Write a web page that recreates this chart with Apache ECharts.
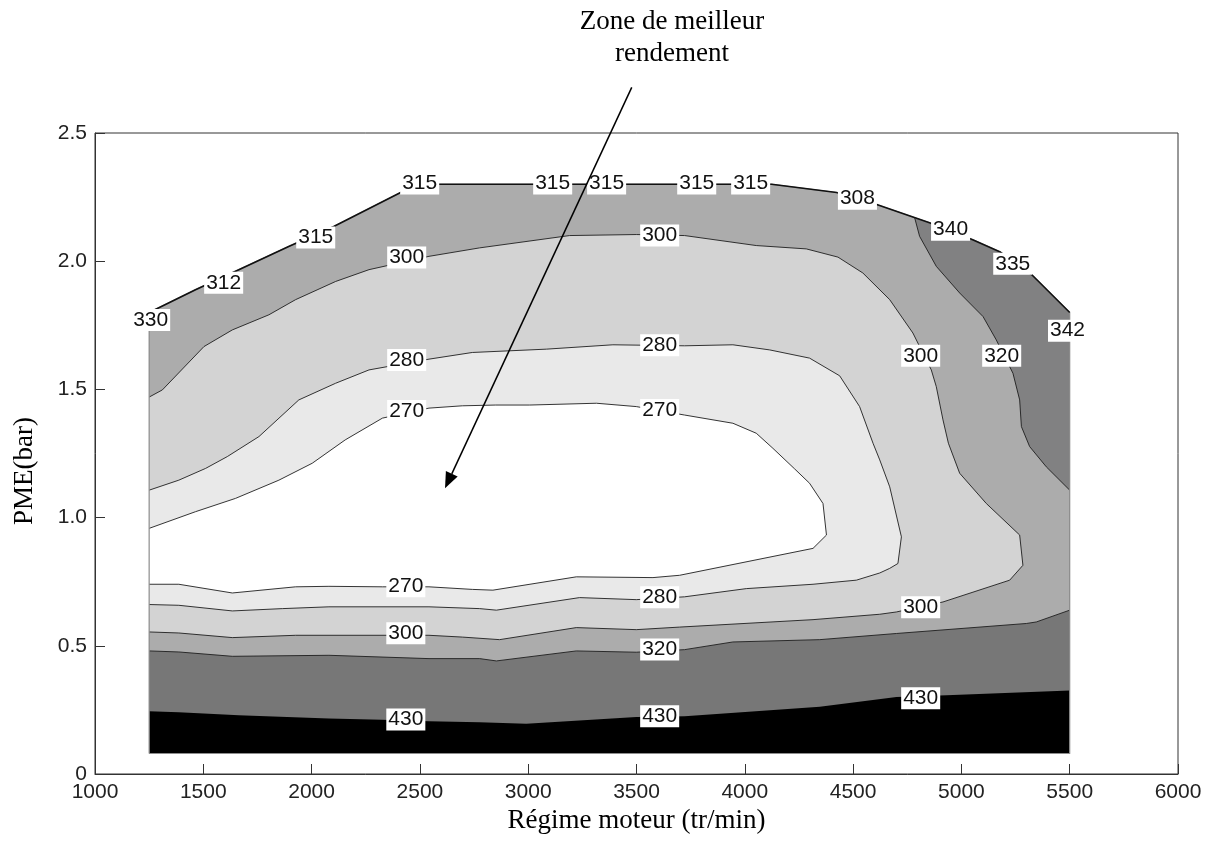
<!DOCTYPE html>
<html>
<head>
<meta charset="utf-8">
<title>Consommation spécifique – régime / PME</title>
<script src="https://cdn.jsdelivr.net/npm/echarts@6/dist/echarts.min.js"></script>
<style>
  html, body { margin: 0; padding: 0; background: #fff; }
  #chart { width: 1214px; height: 854px; }
</style>
</head>
<body>
<div id="chart"></div>
<script>
// Axis ticks
const xTickLabels = ['1000', '1500', '2000', '2500', '3000', '3500', '4000', '4500', '5000', '5500', '6000'];
const yTickLabels = ['0', '0.5', '1.0', '1.5', '2.0', '2.5'];

// Measured operating envelope [tr/min, bar], bottom-left then along the full-load curve
const envelope = [
  [1250, 0.08], [1250, 1.80], [1464, 1.889], [1664, 1.967], [1894, 2.057], [2102, 2.135],
  [2411, 2.268], [2500, 2.30], [4124, 2.30], [4424, 2.268], [4609, 2.221], [4853, 2.150],
  [5052, 2.084], [5177, 2.037], [5325, 1.947], [5500, 1.80], [5500, 0.08]
];

// Iso-consumption curves (g/kWh)
const iso430 = [
  [1250, 0.245], [1387, 0.241], [1664, 0.229], [2080, 0.216], [2327, 0.212], [2542, 0.206],
  [2776, 0.202], [2991, 0.196], [3499, 0.222], [3722, 0.225], [4346, 0.262], [4700, 0.300],
  [4931, 0.307], [5500, 0.326]
];
const iso320Low = [
  [1250, 0.480], [1387, 0.476], [1634, 0.459], [2080, 0.463], [2542, 0.450], [2776, 0.450],
  [2853, 0.441], [3222, 0.480], [3499, 0.475], [3722, 0.485], [3945, 0.515], [4346, 0.524],
  [4700, 0.548], [5300, 0.587], [5346, 0.593], [5500, 0.639]
];
const iso320High = [
  [4784, 2.170], [4807, 2.097], [4884, 1.980], [4992, 1.876], [5100, 1.784], [5161, 1.693],
  [5238, 1.563], [5269, 1.459], [5277, 1.355], [5315, 1.277], [5392, 1.198], [5500, 1.107]
];
const iso300 = [
  [1250, 1.470], [1311, 1.498], [1503, 1.667], [1634, 1.732], [1803, 1.791], [1926, 1.850],
  [2111, 1.921], [2265, 1.967], [2542, 2.019], [2776, 2.052], [3191, 2.100], [3499, 2.104],
  [3722, 2.100], [4053, 2.061], [4284, 2.048], [4430, 2.016], [4545, 1.954], [4669, 1.850],
  [4776, 1.720], [4861, 1.576], [4884, 1.511], [4915, 1.381], [4940, 1.290], [4992, 1.173],
  [5115, 1.055], [5269, 0.932], [5284, 0.814], [5223, 0.756], [4915, 0.671], [4700, 0.632],
  [4623, 0.623], [4315, 0.602], [3699, 0.573], [3499, 0.563], [3222, 0.571], [2868, 0.524],
  [2696, 0.534], [2542, 0.541], [1926, 0.541], [1634, 0.532], [1387, 0.550], [1250, 0.554]
];
const iso280 = [
  [1250, 1.107], [1387, 1.146], [1511, 1.192], [1611, 1.238], [1757, 1.316], [1941, 1.459],
  [2111, 1.524], [2265, 1.576], [2542, 1.618], [2742, 1.644], [3084, 1.657], [3391, 1.674],
  [3722, 1.670], [3945, 1.674], [4115, 1.654], [4299, 1.622], [4438, 1.553], [4530, 1.433],
  [4592, 1.290], [4623, 1.225], [4669, 1.120], [4723, 0.925], [4707, 0.821], [4669, 0.802],
  [4623, 0.784], [4515, 0.756], [4315, 0.740], [4007, 0.723], [3722, 0.691], [3499, 0.680],
  [3237, 0.688], [2853, 0.639], [2776, 0.645], [2542, 0.652], [2080, 0.652], [1865, 0.645],
  [1634, 0.636], [1387, 0.658], [1250, 0.661]
];
const iso270 = [
  [1250, 0.958], [1464, 1.023], [1649, 1.075], [1849, 1.146], [2003, 1.212], [2155, 1.303],
  [2327, 1.388], [2542, 1.427], [2696, 1.436], [2850, 1.439], [3007, 1.439], [3315, 1.446],
  [3499, 1.433], [3722, 1.400], [3945, 1.368], [4053, 1.329], [4130, 1.270], [4230, 1.190],
  [4299, 1.134], [4361, 1.055], [4377, 0.932], [4315, 0.880], [3699, 0.775], [3576, 0.766],
  [3222, 0.769], [2837, 0.717], [2742, 0.720], [2542, 0.730], [2327, 0.730], [2080, 0.732],
  [1926, 0.730], [1634, 0.706], [1387, 0.740], [1250, 0.740]
];

// Curve labels [tr/min, bar, g/kWh]
const curveLabels = [
  [1257, 1.771, 330], [1594, 1.916, 312], [2019, 2.092, 315], [2499, 2.303, 315],
  [3113, 2.303, 315], [3362, 2.303, 315], [3778, 2.303, 315], [4027, 2.303, 315],
  [4520, 2.244, 308], [4950, 2.123, 340], [5237, 1.990, 335], [5490, 1.729, 342],
  [2439, 2.014, 300], [3607, 2.100, 300], [2439, 1.615, 280], [3607, 1.672, 280],
  [2439, 1.416, 270], [3607, 1.420, 270], [4812, 1.631, 300], [5186, 1.631, 320],
  [2435, 0.732, 270], [2435, 0.549, 300], [2435, 0.213, 430], [3607, 0.689, 280],
  [3607, 0.486, 320], [3607, 0.225, 430], [4812, 0.650, 300], [4812, 0.295, 430]
];

// Annotation arrow pointing at the best-efficiency zone
const arrowFrom = [3478, 2.678];
const arrowTo = [2616, 1.114];

// Full-load curve (top edge of the envelope)
const fullLoad = envelope.slice(1, -1);
const split320 = iso320High[0][0];

// Filled bands, painted from the outermost level inwards
const bands = [
  { points: envelope, fill: '#000000' },
  { points: iso430.concat(fullLoad.slice().reverse()), fill: '#777777' },
  { points: iso320High.concat(fullLoad.filter(p => p[0] > split320).reverse()), fill: '#818182' },
  { points: iso320Low.concat(iso320High.slice().reverse(),
      fullLoad.filter(p => p[0] < split320).reverse()), fill: '#acacac' },
  { points: iso300, fill: '#d3d3d3' },
  { points: iso280, fill: '#e9e9e9' },
  { points: iso270, fill: '#ffffff' }
];

// Stroked outlines
const outlines = [
  { points: iso320Low, color: '#1e1e1e', width: 0.9 },
  { points: iso320High, color: '#1e1e1e', width: 0.9 },
  { points: iso300, color: '#1e1e1e', width: 0.9 },
  { points: iso280, color: '#1e1e1e', width: 0.9 },
  { points: iso270, color: '#1e1e1e', width: 0.9 },
  { points: envelope.concat([envelope[0]]), color: '#8e8e8e', width: 1.2 },
  { points: fullLoad, color: '#111111', width: 1.6 }
];

const chart = echarts.init(document.getElementById('chart'), null, { renderer: 'canvas' });

const tickFont = '"Liberation Sans", Arial, sans-serif';
const serifFont = '"Liberation Serif", "Times New Roman", serif';

chart.setOption({
  animation: false,
  backgroundColor: '#ffffff',
  grid: {
    left: 95, right: 36, top: 133, bottom: 80,
    show: true, borderColor: '#333', borderWidth: 1, backgroundColor: 'transparent'
  },
  xAxis: {
    type: 'value', min: 1000, max: 6000, interval: 500,
    name: 'Régime moteur (tr/min)', nameLocation: 'middle', nameGap: 22,
    nameTextStyle: { fontFamily: serifFont, fontSize: 27, color: '#000' },
    axisLine: { show: true, lineStyle: { color: '#333', width: 1 } },
    axisTick: { show: true, inside: true, length: 10, lineStyle: { color: '#333' } },
    axisLabel: {
      margin: 8, fontFamily: tickFont, fontSize: 21, color: '#222',
      formatter: (v, i) => xTickLabels[i]
    },
    splitLine: { show: false }
  },
  yAxis: {
    type: 'value', min: 0, max: 2.5, interval: 0.5,
    axisLine: { show: true, lineStyle: { color: '#333', width: 1 } },
    axisTick: { show: true, inside: true, length: 10, lineStyle: { color: '#333' } },
    axisLabel: {
      margin: 8, fontFamily: tickFont, fontSize: 21, color: '#222',
      formatter: (v, i) => yTickLabels[i]
    },
    splitLine: { show: false }
  },
  graphic: [
    {
      type: 'text', x: 25, y: 471, rotation: Math.PI / 2,
      style: { text: 'PME(bar)', align: 'center', verticalAlign: 'middle',
               font: '27px ' + serifFont, fill: '#000' }
    },
    {
      type: 'text', x: 672, y: 22,
      style: { text: 'Zone de meilleur', align: 'center', verticalAlign: 'middle',
               font: '27px ' + serifFont, fill: '#000' }
    },
    {
      type: 'text', x: 672, y: 54,
      style: { text: 'rendement', align: 'center', verticalAlign: 'middle',
               font: '27px ' + serifFont, fill: '#000' }
    }
  ],
  series: [
    {
      name: 'bands', type: 'custom', coordinateSystem: 'cartesian2d', silent: true, z: 1,
      data: bands.map(b => b.points[0]),
      renderItem: (params, api) => {
        const b = bands[params.dataIndex];
        return {
          type: 'polygon',
          shape: { points: b.points.map(p => api.coord(p)) },
          style: { fill: b.fill, stroke: 'none' }
        };
      }
    },
    {
      name: 'curves', type: 'custom', coordinateSystem: 'cartesian2d', silent: true, z: 2,
      data: outlines.map(o => o.points[0]),
      renderItem: (params, api) => {
        const o = outlines[params.dataIndex];
        return {
          type: 'polyline',
          shape: { points: o.points.map(p => api.coord(p)) },
          style: { fill: 'none', stroke: o.color, lineWidth: o.width, lineJoin: 'round' }
        };
      }
    },
    {
      name: 'labels', type: 'custom', coordinateSystem: 'cartesian2d', silent: true, z: 3,
      data: curveLabels,
      renderItem: (params, api) => {
        const pt = api.coord([api.value(0), api.value(1)]);
        return {
          type: 'text', x: pt[0], y: pt[1],
          style: {
            text: String(api.value(2)), align: 'center', verticalAlign: 'middle',
            font: '21px ' + tickFont, fill: '#111',
            backgroundColor: '#ffffff', padding: [1, 2, 0, 2]
          }
        };
      }
    },
    {
      name: 'arrow', type: 'custom', coordinateSystem: 'cartesian2d', silent: true, z: 4,
      clip: false,
      data: [arrowTo],
      renderItem: (params, api) => {
        const a = api.coord(arrowFrom);
        const b = api.coord(arrowTo);
        const dx = b[0] - a[0], dy = b[1] - a[1];
        const len = Math.hypot(dx, dy);
        const ux = dx / len, uy = dy / len;
        const headL = 16, headW = 6.5;
        const bx = b[0] - ux * headL, by = b[1] - uy * headL;
        return {
          type: 'group',
          children: [
            {
              type: 'line',
              shape: { x1: a[0], y1: a[1], x2: bx, y2: by },
              style: { stroke: '#000', lineWidth: 1.5 }
            },
            {
              type: 'polygon',
              shape: { points: [b, [bx - uy * headW, by + ux * headW], [bx + uy * headW, by - ux * headW]] },
              style: { fill: '#000', stroke: 'none' }
            }
          ]
        };
      }
    }
  ]
});
</script>
</body>
</html>
